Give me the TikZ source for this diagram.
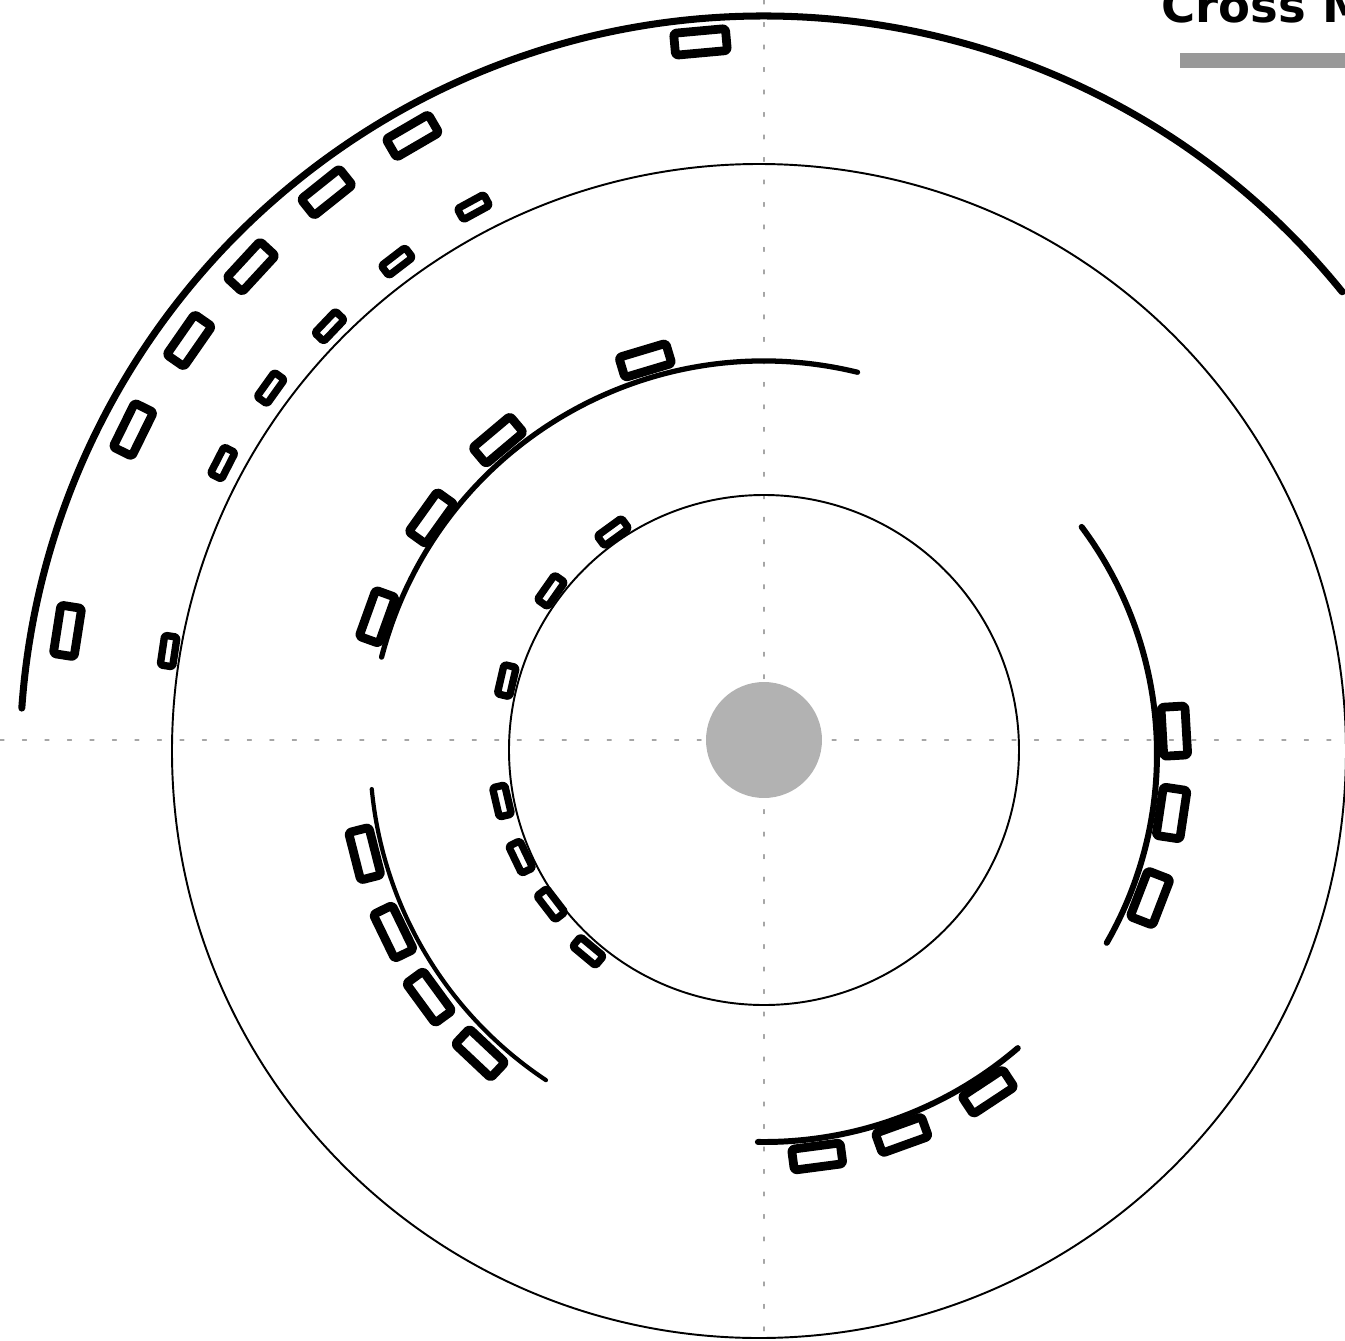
\documentclass[tikz,border=0pt]{standalone}
\usepackage{fontspec}
\newfontfamily\headfont{DejaVu Sans}
\usetikzlibrary{positioning}

\begin{document}
\begin{tikzpicture}[x=0.02cm, y=0.02cm, line cap=round, line join=round,
  ring/.style={line width=1.1pt},
  lane/.style={line width=3pt},
  axis/.style={gray!70, line width=0.6pt, dash pattern=on 2.3pt off 10.5pt},
  carbox/.style={draw, line width=5pt, rounded corners=1.5pt, inner sep=0pt,
    minimum width=0.98cm, minimum height=0.42cm},
  minicar/.style={draw, line width=4.2pt, rounded corners=1pt, inner sep=0pt,
    minimum width=0.60cm, minimum height=0.25cm},
  hub/.style={circle, fill=gray!60, inner sep=0pt, minimum size=2.32cm}]
\useasboundingbox (-764,-600) rectangle (581,740);
% axes
\draw[axis] (0,740) -- (0,-600);
\draw[axis] (-764,0) -- (581,0);
\node[hub] (hub) at (0,0) {};
% thin rings
\draw[ring] (-5,-11) circle[radius=587];
\draw[ring] (0,-10) circle[radius=255];
% outer lane
\draw[lane, line width=4pt] ([shift={(0,-20)}]39:744) arc[start angle=39, end angle=176, radius=744];
\node[carbox, minimum width=1.04cm, minimum height=0.44cm, rotate=5.2] (topcar) at (95.2:701) {};
\foreach \a/\r [count=\i] in {120.2/699, 128.6/701, 137.3/698, 145.2/700, 153.8/703, 171.1/705}
  \node[carbox, rotate=\a-90] (outcar\i) at (\a:\r) {};
\foreach \a/\r [count=\i] in {118.6/607, 127.5/603, 136.4/600, 144.5/606, 152.9/608, 171.5/602}
  \node[minicar, rotate=\a-90] (edgecar\i) at (\a:\r) {};
% inner ring
\foreach \a/\r [count=\i] in {126/257, 145/260, 167/264, 193.1/269, 205.7/270, 217.6/269, 230.2/275}
  \node[minicar, rotate=\a-90] (incar\i) at (\a:\r) {};
% middle lanes
\draw[lane] ([shift={(0,-16)}]76.3:395) arc[start angle=76.3, end angle=165.5, radius=395];
\foreach \a/\r [count=\i] in {106.7/413, 130.1/413, 144.4/409, 160.2/411}
  \node[carbox, rotate=\a-90] (upcar\i) at ([shift={(0,-16)}]\a:\r) {};
\draw[lane, line width=3.4pt] ([shift={(13,-14)}]-29.8:380) arc[start angle=-29.8, end angle=36.7, radius=380];
\foreach \a/\r [count=\i] in {3.3/398, -8.5/399, -21.1/400}
  \node[carbox, minimum height=0.48cm, rotate=\a-90] (rightcar\i) at ([shift={(13,-14)}]\a:\r) {};
\draw[lane, line width=2.4pt] ([shift={(0,-12)}]185.4:394) arc[start angle=185.4, end angle=236.4, radius=394];
\foreach \a/\r [count=\i] in {194.3/412, 205.9/412, 216.2/415, 226.7/414}
  \node[carbox, rotate=\a-90] (leftcar\i) at ([shift={(0,-12)}]\a:\r) {};
\draw[lane, line width=3.4pt] ([shift={(0,-12)}]269.1:390) arc[start angle=269.1, end angle=310.6, radius=390];
\foreach \a/\r [count=\i] in {277.5/408, 289.8/407, 303.4/407}
  \node[carbox, rotate=\a-90] (downcar\i) at ([shift={(0,-12)}]\a:\r) {};
% title
\node[anchor=base west, inner sep=0pt, font=\headfont\bfseries\fontsize{26.5}{30}\selectfont] (title) at (397,717) {Cross M};
\fill[black!40] (416,672) rectangle (600,687);
\end{tikzpicture}
\end{document}
